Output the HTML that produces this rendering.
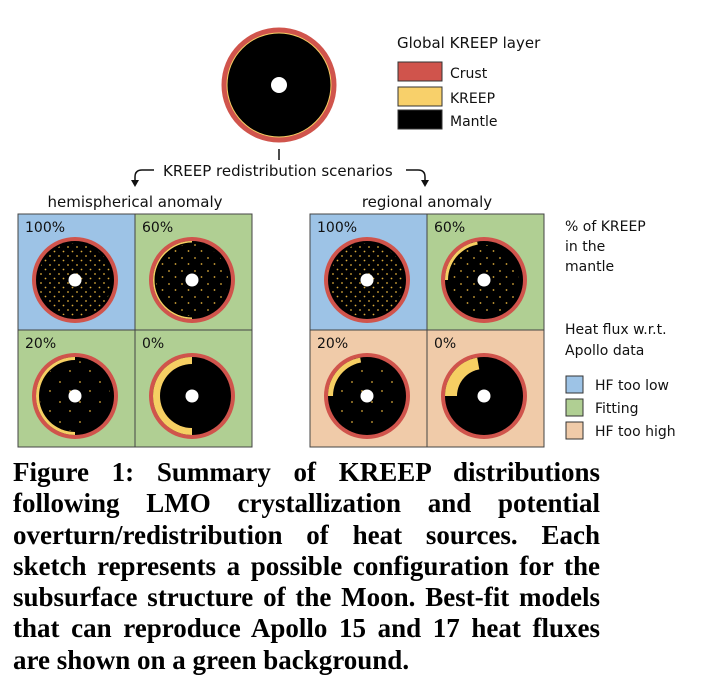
<!DOCTYPE html>
<html><head><meta charset="utf-8"><style>
html,body{margin:0;padding:0;background:#fff;width:725px;height:689px;overflow:hidden}
svg{position:absolute;left:0;top:0}
svg text{font-family:"DejaVu Sans","Liberation Sans",sans-serif;font-size:14px;fill:#111}
.cap{position:absolute;left:13px;top:457px;width:587px;font-family:"Liberation Serif",serif;font-weight:bold;font-size:27px;line-height:31.3px;color:#000}
.cap div{text-align:justify;text-align-last:justify;white-space:nowrap}
.cap div.l{text-align-last:left}
</style></head><body>
<svg width="725" height="455" viewBox="0 0 725 455">
<defs>
<pattern id="d1" width="9" height="9" patternUnits="userSpaceOnUse"><circle cx="2" cy="3" r="0.9" fill="#d9a93a"/><circle cx="6.5" cy="7.5" r="0.9" fill="#d9a93a"/></pattern>
<pattern id="d2" width="13" height="13" patternUnits="userSpaceOnUse"><circle cx="3" cy="4" r="0.9" fill="#d9a93a"/><circle cx="9.5" cy="10" r="0.9" fill="#d9a93a"/></pattern>
<pattern id="d3" width="20" height="20" patternUnits="userSpaceOnUse"><circle cx="5" cy="6" r="0.9" fill="#d9a93a"/><circle cx="15" cy="15" r="0.9" fill="#d9a93a"/></pattern>
</defs>
<circle cx="279" cy="85" r="57.5" fill="#d0544c"/>
<circle cx="279" cy="85" r="52.5" fill="#f6cf63"/>
<circle cx="279" cy="85" r="51.5" fill="#000"/>
<circle cx="279" cy="85" r="8" fill="#fff"/>
<text x="397" y="48" style="font-size:15px">Global KREEP layer</text>
<rect x="398" y="62" width="44" height="19" fill="#d0544c" stroke="#333"/>
<rect x="398" y="87" width="44" height="19" fill="#f8d06a" stroke="#333"/>
<rect x="398" y="110" width="44" height="19" fill="#000" stroke="#333"/>
<text x="450" y="78">Crust</text><text x="450" y="103">KREEP</text><text x="450" y="126">Mantle</text>
<line x1="279" y1="149" x2="279" y2="160" stroke="#111" stroke-width="1.5"/>
<text x="163" y="176" style="font-size:15px">KREEP redistribution scenarios</text>
<path d="M154 170 H142 Q135 170 135 177 V181" fill="none" stroke="#111" stroke-width="1.5"/>
<path d="M131 180 L139 180 L135 187 Z" fill="#111"/>
<path d="M406 170 H418 Q425 170 425 177 V181" fill="none" stroke="#111" stroke-width="1.5"/>
<path d="M421 180 L429 180 L425 187 Z" fill="#111"/>
<text x="135" y="207" text-anchor="middle" style="font-size:15px">hemispherical anomaly</text>
<text x="427" y="207" text-anchor="middle" style="font-size:15px">regional anomaly</text>
<rect x="18" y="214" width="117" height="116" fill="#9dc3e6"/>
<rect x="135" y="214" width="117" height="116" fill="#b0cf93"/>
<rect x="18" y="330" width="117" height="117" fill="#b0cf93"/>
<rect x="135" y="330" width="117" height="117" fill="#b0cf93"/>
<rect x="18" y="214" width="234" height="233" fill="none" stroke="#444"/>
<line x1="135" y1="214" x2="135" y2="447" stroke="#444"/><line x1="18" y1="330" x2="252" y2="330" stroke="#444"/>
<rect x="310" y="214" width="117" height="116" fill="#9dc3e6"/>
<rect x="427" y="214" width="117" height="116" fill="#b0cf93"/>
<rect x="310" y="330" width="117" height="117" fill="#f0cba9"/>
<rect x="427" y="330" width="117" height="117" fill="#f0cba9"/>
<rect x="310" y="214" width="234" height="233" fill="none" stroke="#444"/>
<line x1="427" y1="214" x2="427" y2="447" stroke="#444"/><line x1="310" y1="330" x2="544" y2="330" stroke="#444"/>
<g style="font-size:14px">
<text x="25" y="232">100%</text><text x="142" y="232">60%</text><text x="25" y="348">20%</text><text x="142" y="348">0%</text>
<text x="317" y="232">100%</text><text x="434" y="232">60%</text><text x="317" y="348">20%</text><text x="434" y="348">0%</text>
</g>
<g transform="translate(75,280)"><circle r="43" fill="#d0544c"/><circle r="39" fill="#000"/><circle r="37" fill="url(#d1)"/><circle r="6.5" fill="#fff"/></g>
<g transform="translate(192,280)"><circle r="43" fill="#d0544c"/><circle r="39" fill="#000"/><path d="M0 -39 A39 39 0 0 0 0 39 Z" fill="#f6cf63"/><circle r="37.5" fill="#000"/><circle r="36" fill="url(#d2)"/><circle r="6.5" fill="#fff"/></g>
<g transform="translate(75,396)"><circle r="43" fill="#d0544c"/><circle r="39" fill="#000"/><path d="M0 -39 A39 39 0 0 0 0 39 Z" fill="#f6cf63"/><circle r="36" fill="#000"/><circle r="35" fill="url(#d3)"/><circle r="6.5" fill="#fff"/></g>
<g transform="translate(192,396)"><circle r="43" fill="#d0544c"/><circle r="39" fill="#000"/><path d="M0 -39 A39 39 0 0 0 0 39 Z" fill="#f6cf63"/><circle r="32" fill="#000"/><circle r="6.5" fill="#fff"/></g>
<g transform="translate(367,280)"><circle r="43" fill="#d0544c"/><circle r="39" fill="#000"/><circle r="37" fill="url(#d1)"/><circle r="6.5" fill="#fff"/></g>
<g transform="translate(484,280)"><circle r="43" fill="#d0544c"/><circle r="39" fill="#000"/><path d="M0 0 L-39 0 A39 39 0 0 1 -6.8 -38.4 Z" fill="#f6cf63"/><circle r="36" fill="#000"/><circle r="35" fill="url(#d2)"/><circle r="6.5" fill="#fff"/></g>
<g transform="translate(367,396)"><circle r="43" fill="#d0544c"/><circle r="39" fill="#000"/><path d="M0 0 L-39 0 A39 39 0 0 1 -6.8 -38.4 Z" fill="#f6cf63"/><circle r="34" fill="#000"/><circle r="33" fill="url(#d3)"/><circle r="6.5" fill="#fff"/></g>
<g transform="translate(484,396)"><circle r="43" fill="#d0544c"/><circle r="39" fill="#000"/><path d="M0 0 L-39 0 A39 39 0 0 1 -6.8 -38.4 Z" fill="#f6cf63"/><circle r="27" fill="#000"/><circle r="6.5" fill="#fff"/></g>
<text x="565" y="231">% of KREEP</text><text x="565" y="251">in the</text><text x="565" y="271">mantle</text>
<text x="565" y="334">Heat flux w.r.t.</text><text x="565" y="355">Apollo data</text>
<rect x="566" y="376" width="17" height="17" fill="#9dc3e6" stroke="#333"/>
<rect x="566" y="399" width="17" height="17" fill="#b0cf93" stroke="#333"/>
<rect x="566" y="422" width="17" height="17" fill="#f0cba9" stroke="#333"/>
<text x="595" y="390">HF too low</text><text x="595" y="413">Fitting</text><text x="595" y="436">HF too high</text>
</svg>
<div class="cap">
<div>Figure 1: Summary of KREEP distributions</div>
<div>following LMO crystallization and potential</div>
<div>overturn/redistribution of heat sources. Each</div>
<div>sketch represents a possible configuration for the</div>
<div>subsurface structure of the Moon. Best-fit models</div>
<div>that can reproduce Apollo 15 and 17 heat fluxes</div>
<div class="l">are shown on a green background.</div>
</div>
</body></html>
